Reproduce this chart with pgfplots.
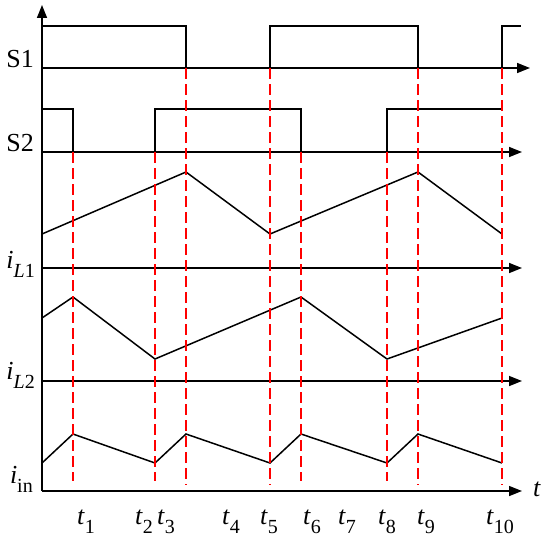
\documentclass[border=0pt]{standalone}
\usepackage{pgfplots}
\pgfplotsset{compat=1.18}
\usepackage{fontspec}
\setmainfont{Liberation Serif}
\usetikzlibrary{arrows.meta}
\newcommand{\lab}{\fontsize{26bp}{28bp}\selectfont}
\newcommand{\sub}[1]{\raisebox{-0.38em}{\fontsize{20bp}{22bp}\selectfont #1}}
\newcommand{\tl}[1]{\lab\textit{t}\sub{#1}}
\begin{document}
\begin{tikzpicture}
\begin{axis}[
  scale only axis, width=550bp, height=537bp,
  xmin=0, xmax=550, ymin=0, ymax=537, y dir=reverse,
  hide axis, clip=false,
  every axis plot/.append style={line width=1.5bp, mark=none, line join=miter},
  ar/.style={black, -{Triangle[length=13bp,width=10bp]}},
  wave/.style={black},
  rd/.style={red, dash pattern=on 11bp off 5bp},
]
\path (axis cs:0,0) rectangle (axis cs:550,537);
% axes
\addplot[ar] coordinates {(42,491) (42,5)};
\addplot[ar] coordinates {(42,68) (530,68)};
\addplot[ar] coordinates {(42,152) (522,152)};
\addplot[ar] coordinates {(42,268) (522,268)};
\addplot[ar] coordinates {(42,381) (522,381)};
\addplot[ar] coordinates {(42,491) (522,491)};
% S1
\addplot[wave] coordinates {(42,26) (186,26) (186,68)};
\addplot[wave] coordinates {(270,68) (270,26) (418,26) (418,68)};
\addplot[wave] coordinates {(502,68) (502,26) (521,26)};
% S2
\addplot[wave] coordinates {(42,109) (73,109) (73,152)};
\addplot[wave] coordinates {(155,152) (155,109) (301,109) (301,152)};
\addplot[wave] coordinates {(387,152) (387,109) (502,109)};
% iL1
\addplot[wave] coordinates {(42,234) (186,172) (270,234) (418,172) (502,234)};
% iL2
\addplot[wave] coordinates {(42,318) (73,297) (155,359) (301,297) (387,359) (502,318)};
% iin
\addplot[wave] coordinates {(42,463) (73,434) (155,463) (186,434) (270,463) (301,434) (387,463) (418,434) (502,463)};
% red dashed
\addplot[rd] coordinates {(73,152) (73,481)};
\addplot[rd] coordinates {(155,152) (155,481)};
\addplot[rd] coordinates {(186,68) (186,485)};
\addplot[rd] coordinates {(270,68) (270,485)};
\addplot[rd] coordinates {(301,152) (301,481)};
\addplot[rd] coordinates {(387,152) (387,481)};
\addplot[rd] coordinates {(418,68) (418,485)};
\addplot[rd] coordinates {(502,68) (502,485)};
% side labels
\node[anchor=base east, inner sep=0pt] at (axis cs:34,67) {\lab S1};
\node[anchor=base east, inner sep=0pt] at (axis cs:34,151) {\lab S2};
\node[anchor=base east, inner sep=0pt] at (axis cs:35,268) {\lab\textit{i}\sub{\textit{L}1}};
\node[anchor=base east, inner sep=0pt] at (axis cs:35,379) {\lab\textit{i}\sub{\textit{L}2}};
\node[anchor=base east, inner sep=0pt] at (axis cs:33,483) {\lab\textit{i}\sub{in}};
% t labels
\node[anchor=base west, inner sep=0pt] at (axis cs:77,524) {\tl{1}};
\node[anchor=base west, inner sep=0pt] at (axis cs:135,524) {\tl{2}};
\node[anchor=base west, inner sep=0pt] at (axis cs:157,524) {\tl{3}};
\node[anchor=base west, inner sep=0pt] at (axis cs:222,524) {\tl{4}};
\node[anchor=base west, inner sep=0pt] at (axis cs:260,524) {\tl{5}};
\node[anchor=base west, inner sep=0pt] at (axis cs:303,524) {\tl{6}};
\node[anchor=base west, inner sep=0pt] at (axis cs:338,524) {\tl{7}};
\node[anchor=base west, inner sep=0pt] at (axis cs:378,524) {\tl{8}};
\node[anchor=base west, inner sep=0pt] at (axis cs:417,524) {\tl{9}};
\node[anchor=base west, inner sep=0pt] at (axis cs:486,524) {\tl{10}};
\node[anchor=base west, inner sep=0pt] at (axis cs:533,496) {\lab\textit{t}};
\end{axis}
\end{tikzpicture}
\end{document}
